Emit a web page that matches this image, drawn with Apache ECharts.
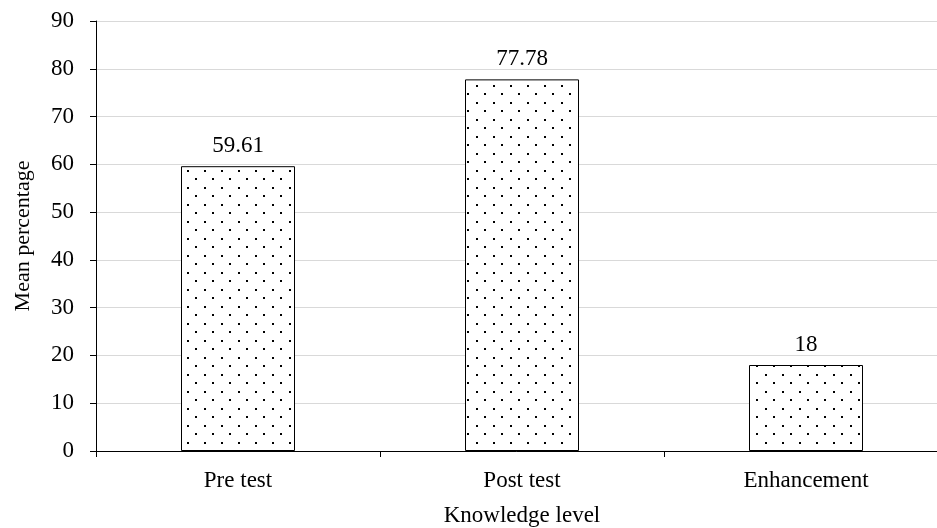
<!DOCTYPE html>
<html>
<head>
<meta charset="utf-8">
<script src="https://cdn.jsdelivr.net/npm/echarts@6/dist/echarts.min.js"></script>
<style>
  html, body { margin: 0; padding: 0; background: #fff; }
  #chart { width: 937px; height: 528px; }
</style>
</head>
<body>
<div id="chart"></div>
<script>
// Mean knowledge scores by test stage
const categories = ['Pre test', 'Post test', 'Enhancement'];
const meanValues = [59.61, 77.78, 18];
const yTicks = [0, 10, 20, 30, 40, 50, 60, 70, 80, 90];

// Staggered dot fill for the bars
function dotPattern() {
  const c = document.createElement('canvas');
  c.width = 17; c.height = 17;
  const g = c.getContext('2d');
  g.fillStyle = '#fff';
  g.fillRect(0, 0, 17, 17);
  g.fillStyle = '#000';
  g.fillRect(0, 0, 2, 2);
  g.fillRect(8, 8, 2, 2);
  return c;
}

const FONT = '"Liberation Serif", "Times New Roman", serif';
const FS = 23;
const chart = echarts.init(document.getElementById('chart'));
chart.setOption({
  animation: false,
  backgroundColor: '#fff',
  textStyle: { fontFamily: FONT, color: '#000' },
  grid: { left: 96, top: 21, width: 852, height: 430, outerBoundsMode: 'none', containLabel: false },
  xAxis: {
    type: 'category',
    data: categories,
    name: 'Knowledge level',
    nameLocation: 'middle',
    nameGap: 53,
    nameTextStyle: { fontFamily: FONT, fontSize: FS, color: '#000' },
    axisLine: { lineStyle: { color: '#000', width: 1 } },
    axisTick: { show: true, length: 6, lineStyle: { color: '#000' } },
    axisLabel: { fontFamily: FONT, fontSize: FS, color: '#000', margin: 18 }
  },
  yAxis: {
    type: 'value',
    min: yTicks[0],
    max: yTicks[yTicks.length - 1],
    interval: 10,
    name: 'Mean percentage',
    nameLocation: 'middle',
    nameGap: 62,
    nameTextStyle: { fontFamily: FONT, fontSize: 22, color: '#000' },
    axisLine: { show: true, lineStyle: { color: '#000', width: 1 } },
    axisTick: { show: true, length: 6, lineStyle: { color: '#000' } },
    axisLabel: { fontFamily: FONT, fontSize: FS, color: '#000', margin: 22 },
    splitLine: { lineStyle: { color: '#d9d9d9', width: 1 } }
  },
  series: [{
    type: 'bar',
    data: meanValues,
    barWidth: 114,
    itemStyle: {
      color: { image: dotPattern(), repeat: 'repeat' },
      borderColor: '#000',
      borderWidth: 1
    },
    label: {
      show: true,
      position: 'top',
      distance: 9,
      fontFamily: FONT,
      fontSize: FS,
      color: '#000'
    }
  }]
});
</script>
</body>
</html>
